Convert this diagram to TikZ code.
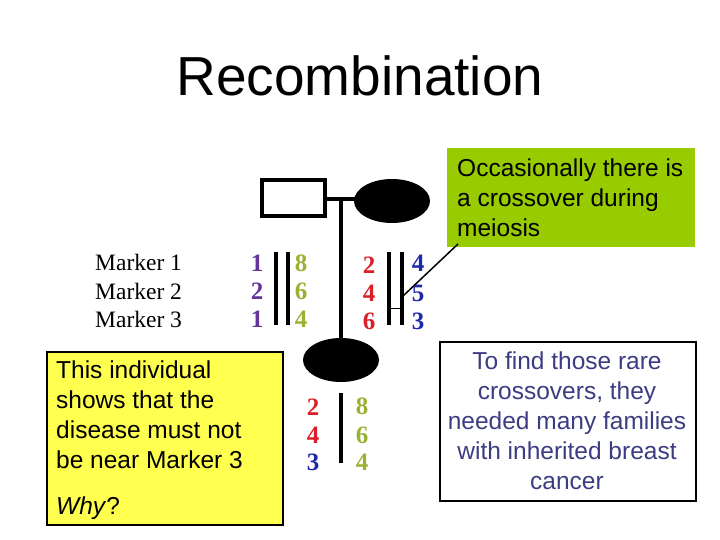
\documentclass[tikz,border=0pt]{standalone}
\usepackage{fontspec}
\usetikzlibrary{shapes.geometric}
\setmainfont{Liberation Serif}
\newfontfamily\sans{Liberation Sans}
\begin{document}
\begin{tikzpicture}[x=1pt,y=-1pt,
  num/.style={font=\fontsize{25}{25}\selectfont\bfseries, inner sep=0pt},
  bar/.style={line width=4pt},
  box/.style={font=\sans\fontsize{24.5}{30}\selectfont, align=left, anchor=north west, inner sep=0pt}]
\useasboundingbox (0,0) rectangle (720,540);
\definecolor{pur}{RGB}{102,51,153}
\definecolor{oli}{RGB}{153,178,51}
\definecolor{rd}{RGB}{220,30,40}
\definecolor{bl}{RGB}{30,40,170}
\definecolor{grn}{RGB}{153,204,0}
\definecolor{yel}{RGB}{255,255,80}
\definecolor{tx}{RGB}{60,60,130}
\node[font=\sans\fontsize{55}{55}\selectfont] (title) at (360,76) {Recombination};
% pedigree
\draw[line width=4pt] (341,199) -- (341,340);
\draw[line width=4pt] (325,199) -- (360,199);
\node[draw, line width=4pt, minimum width=63pt, minimum height=36pt, fill=white] (dad) at (293,198) {};
\node[ellipse, fill=black, minimum width=76pt, minimum height=44pt] (mom) at (392,201) {};
\node[ellipse, fill=black, minimum width=76pt, minimum height=44pt] (kid) at (341,360) {};
% markers
\node[anchor=west, font=\fontsize{23.5}{28.5}\selectfont, align=left, inner sep=0pt] (mk) at (95,291) {Marker 1\\Marker 2\\Marker 3};
% chromosomes
\draw[bar] (276,252) -- (276,325); \draw[bar] (288,252) -- (288,325);
\draw[bar] (389,252) -- (389,325); \draw[bar] (402,252) -- (402,325);
\draw[line width=0.8pt] (389,308) -- (402,308);
\draw[bar] (341,393) -- (341,463);
\node[num,pur] (a1) at (257,263) {1}; \node[num,pur] (a2) at (257,291) {2}; \node[num,pur] (a3) at (257,319) {1};
\node[num,oli] (b1) at (301,263) {8}; \node[num,oli] (b2) at (301,291) {6}; \node[num,oli] (b3) at (301,319) {4};
\node[num,rd] (c1) at (369,265) {2}; \node[num,rd] (c2) at (369,293) {4}; \node[num,rd] (c3) at (369,321) {6};
\node[num,bl] (d1) at (418,263) {4}; \node[num,bl] (d2) at (418,293) {5}; \node[num,bl] (d3) at (418,321) {3};
\node[num,rd] (e1) at (313,407) {2}; \node[num,rd] (e2) at (313,435) {4}; \node[num,bl] (e3) at (313,462) {3};
\node[num,oli] (f1) at (362,406) {8}; \node[num,oli] (f2) at (362,435) {6}; \node[num,oli] (f3) at (362,462) {4};
% boxes
\fill[grn] (447,148) rectangle (695,247);
\node[box] (g) at (457,159) {Occasionally there is\\a crossover during\\meiosis};
\coordinate (gc) at (458,244);
\coordinate (xo) at (403,296);
\draw[line width=1.5pt] (gc) -- (xo);
\draw[fill=yel, line width=1.5pt] (47,352) rectangle (283,525);
\node[box] (y) at (56,361) {This individual\\shows that the\\disease must not\\be near Marker 3};
\node[box] (why) at (56,497) {\textit{Why}?};
\draw[line width=1.5pt] (440,342) rectangle (696,501);
\node[box, text=tx, align=center, anchor=north] (t) at (567,352) {To find those rare\\crossovers, they\\needed many families\\with inherited breast\\cancer};
\end{tikzpicture}
\end{document}
